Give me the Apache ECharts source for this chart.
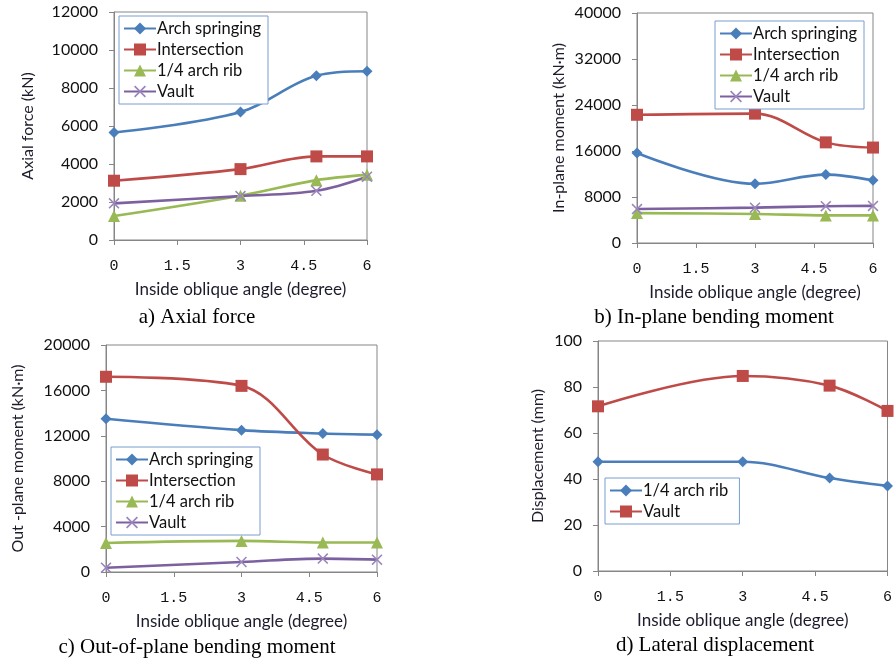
<!DOCTYPE html>
<html><head><meta charset="utf-8">
<script src="https://cdn.jsdelivr.net/npm/echarts@6/dist/echarts.min.js"></script>
<style>html,body{margin:0;padding:0;background:#fff}#c{width:895px;height:660px}</style>
</head><body><div id="c"></div>
<script>
// ---- data ----
const angles = [0, 3, 4.8, 6];
const xTicks = [0, 1.5, 3, 4.5, 6];

const axialArch = [5660, 6740, 8650, 8880];
const axialInter = [3120, 3730, 4400, 4400];
const axialRib = [1260, 2330, 3150, 3430];
const axialVault = [1930, 2310, 2590, 3330];

const inArch = [15650, 10300, 11900, 10900];
const inInter = [22300, 22500, 17500, 16600];
const inRib = [5200, 5050, 4800, 4800];
const inVault = [5900, 6150, 6400, 6450];

const outArch = [13500, 12500, 12200, 12100];
const outInter = [17200, 16400, 10350, 8600];
const outRib = [2560, 2740, 2600, 2600];
const outVault = [380, 880, 1180, 1090];

const dispRib = [47.5, 47.5, 40.4, 37.0];
const dispVault = [71.6, 84.8, 80.6, 69.6];

const captions = ['a) Axial force', 'b) In-plane bending moment', 'c) Out-of-plane bending moment', 'd) Lateral displacement'];
const yTitles = ['Axial force (kN)', 'In-plane moment (kN·m)', 'Out -plane moment (kN·m)', 'Displacement (mm)'];
const xTitle = 'Inside oblique angle (degree)';

// ---- styles ----
const BLUE = '#4A7EBB', RED = '#BE4B48', GREEN = '#98B954', PURPLE = '#7D60A0';
const XSYM = 'path://M0,1L1,0L5,4L9,0L10,1L6,5L10,9L9,10L5,6L1,10L0,9L4,5Z';
const pairs = ys => ys.map((y, i) => [angles[i], y]);

const grids = [
  {left: 114, top: 12, width: 253, height: 228},
  {left: 637, top: 13, width: 236, height: 230},
  {left: 106, top: 345, width: 271, height: 227},
  {left: 598, top: 341, width: 291, height: 230}
];
const yRanges = [[12000, 2000], [40000, 8000], [20000, 4000], [100, 20]];
const yNameGaps = [78, 70, 80, 52];
const AXC = '#868686';
const TXT = '#111';

const xAxes = grids.map((g, i) => ({
  gridIndex: i, type: 'value', min: 0, max: 6, interval: 1.5,
  axisLine: {lineStyle: {color: AXC, width: 1}},
  axisTick: {show: true, length: 5, inside: false, lineStyle: {color: AXC}},
  splitLine: {show: false},
  axisLabel: {margin: 19, color: TXT, fontFamily: 'Liberation Mono', fontSize: 15, formatter: v => String(v)},
  name: xTitle, nameLocation: 'middle', nameGap: 41,
  nameTextStyle: {color: '#1c1c2c', fontFamily: 'Lato', fontSize: 17}
}));
const yAxes = grids.map((g, i) => ({
  gridIndex: i, type: 'value', min: 0, max: yRanges[i][0], interval: yRanges[i][1],
  axisLine: {show: true, lineStyle: {color: AXC, width: 1}},
  axisTick: {show: true, length: 5, lineStyle: {color: AXC}},
  splitLine: {show: false},
  axisLabel: {margin: 16, color: TXT, fontFamily: 'Lato', fontSize: 16, formatter: v => String(v)},
  name: yTitles[i], nameLocation: 'middle', nameGap: yNameGaps[i], nameRotate: 90,
  nameTextStyle: {color: '#1c1c2c', fontFamily: 'Lato', fontSize: 16}
}));

function ser(name, ys, gi, color, symbol, size, symColor) {
  return {
    name, type: 'line', xAxisIndex: gi, yAxisIndex: gi, data: pairs(ys),
    smooth: 0.35, clip: false, symbol, symbolSize: size, showAllSymbol: true,
    lineStyle: {color, width: 2.6},
    itemStyle: {color: symColor || color, borderWidth: 0},
    emphasis: {disabled: true}
  };
}
const series = [
  ser('Arch springing', axialArch, 0, BLUE, 'diamond', 11),
  ser('Intersection', axialInter, 0, RED, 'rect', 12),
  ser('1/4 arch rib', axialRib, 0, GREEN, 'triangle', 12),
  ser('Vault', axialVault, 0, PURPLE, XSYM, 11, '#9A86BC'),
  ser('Arch springing', inArch, 1, BLUE, 'diamond', 11),
  ser('Intersection', inInter, 1, RED, 'rect', 12),
  ser('1/4 arch rib', inRib, 1, GREEN, 'triangle', 12),
  ser('Vault', inVault, 1, PURPLE, XSYM, 11, '#9A86BC'),
  ser('Arch springing', outArch, 2, BLUE, 'diamond', 11),
  ser('Intersection', outInter, 2, RED, 'rect', 12),
  ser('1/4 arch rib', outRib, 2, GREEN, 'triangle', 12),
  ser('Vault', outVault, 2, PURPLE, XSYM, 11, '#9A86BC'),
  ser('1/4 arch rib ', dispRib, 3, BLUE, 'diamond', 11),
  ser('Vault ', dispVault, 3, RED, 'rect', 12)
];

const legendItems4 = ['Arch springing', 'Intersection', '1/4 arch rib', 'Vault'];
function legend(left, top, items) {
  return {
    left, top, orient: 'vertical', data: items,
    itemWidth: 32, itemHeight: 15, itemGap: 0, padding: [2, 7, 2, 4],
    borderColor: '#7A9CD0', borderWidth: 1, backgroundColor: '#fff',
    selectedMode: false,
    textStyle: {color: TXT, fontFamily: 'Lato', fontSize: 16.5, lineHeight: 21, padding: [0, 0, 0, -4]}
  };
}

const option = {
  backgroundColor: '#fff',
  animation: false,
  grid: grids.map(g => Object.assign({show: true, borderColor: AXC, borderWidth: 1, backgroundColor: 'transparent'}, g)),
  xAxis: xAxes,
  yAxis: yAxes,
  legend: [
    legend(119, 16, legendItems4),
    legend(715, 21, legendItems4),
    legend(111, 447, legendItems4),
    legend(605, 478, ['1/4 arch rib ', 'Vault '])
  ],
  series,
  graphic: [
    {type: 'text', x: 197, y: 317, style: {text: captions[0], font: '21px "Liberation Serif"', fill: '#000', align: 'center', verticalAlign: 'middle'}},
    {type: 'text', x: 714, y: 317, style: {text: captions[1], font: '21px "Liberation Serif"', fill: '#000', align: 'center', verticalAlign: 'middle'}},
    {type: 'text', x: 197, y: 647, style: {text: captions[2], font: '21px "Liberation Serif"', fill: '#000', align: 'center', verticalAlign: 'middle'}},
    {type: 'text', x: 715, y: 645, style: {text: captions[3], font: '21px "Liberation Serif"', fill: '#000', align: 'center', verticalAlign: 'middle'}}
  ]
};
echarts.init(document.getElementById('c')).setOption(option);
</script></body></html>
